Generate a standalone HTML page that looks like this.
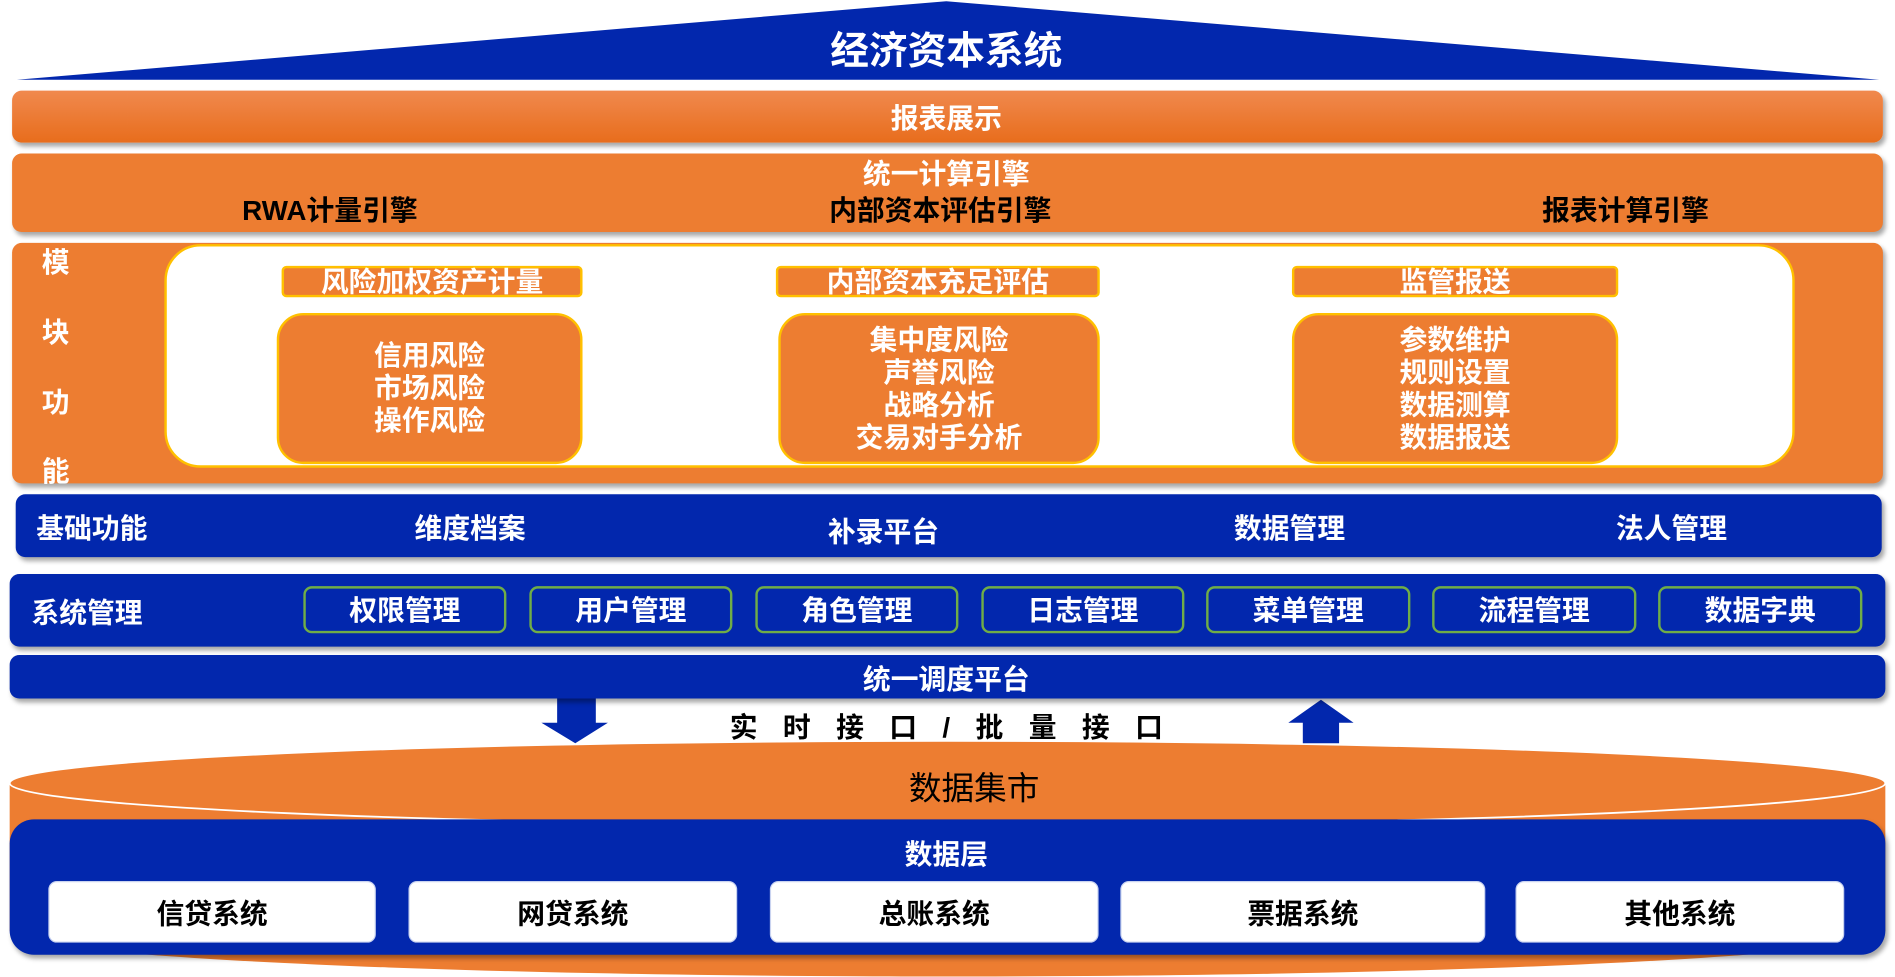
<!DOCTYPE html>
<html><head><meta charset="utf-8"><style>
html,body{margin:0;padding:0;width:1895px;height:976px;overflow:hidden;background:#fff}
#w{position:absolute;left:0;top:0;width:1568px;height:808px;transform:scale(1.20855);transform-origin:0 0;font-family:"Liberation Sans","Noto Sans CJK SC",sans-serif;font-weight:700}
.a{position:absolute;box-sizing:border-box}
.t{position:absolute;white-space:nowrap;transform:translate(-50%,-50%);font-size:23px}
.or{background:#ed7d31;border-radius:8px;box-shadow:2px 3px 4px rgba(0,0,0,.35)}
.bl{background:#0227ad;border-radius:8px;box-shadow:2px 3px 4px rgba(0,0,0,.35)}
.w{color:#fff}.k{color:#000}
.hd{background:#ed7d31;border:2px solid #ffc000;border-radius:4px;color:#fff;font-size:23px;text-align:center;line-height:22px}
.cb{background:#ed7d31;border:2px solid #ffc000;border-radius:22px;color:#fff;font-size:23px;text-align:center;display:flex;flex-direction:column;justify-content:center;line-height:27px}
.gb{border:2px solid #70ad47;border-radius:7px;color:#fff;font-size:23px;text-align:center;line-height:37px}
.wb{background:#fff;border-radius:7px;color:#000;font-size:23px;text-align:center;line-height:53px;border:1px solid #c9d3f0}
</style></head><body><div id="w">
<svg class="a" style="left:0;top:0" width="1568" height="808">
<polygon points="783,1 1555,66 14,66" fill="#0227ad"/>
<path d="M8,648 L8,770 A776,38 0 0 0 1560,770 L1560,648 Z" fill="#ed7d31"/>
<ellipse cx="784" cy="648" rx="776" ry="35" fill="#ed7d31" stroke="#fff" stroke-width="1.5"/>
<polygon points="461,578 493,578 493,598 503,598 476,615 448,598 461,598" fill="#0227ad"/>
<polygon points="1078,615 1108,615 1108,598 1120,598 1093,579 1066,598 1078,598" fill="#0227ad"/>
</svg>
<div class="t w" style="left:783px;top:40px;font-size:32px">经济资本系统</div>
<div class="a" style="left:10px;top:75px;width:1548px;height:43px;border-radius:8px;background:linear-gradient(#f0894e,#e86d1c);box-shadow:2px 3px 4px rgba(0,0,0,.35)"></div>
<div class="t w" style="left:783px;top:96px">报表展示</div>
<div class="a or" style="left:10px;top:127px;width:1548px;height:65px"></div>
<div class="t w" style="left:783px;top:142px">统一计算引擎</div>
<div class="t k" style="left:273px;top:172px">RWA计量引擎</div>
<div class="t k" style="left:778px;top:172px">内部资本评估引擎</div>
<div class="t k" style="left:1345px;top:172px">报表计算引擎</div>
<div class="a or" style="left:10px;top:201px;width:1548px;height:199px"></div>
<div class="t w" style="left:46px;top:215px">模</div>
<div class="t w" style="left:46px;top:273px">块</div>
<div class="t w" style="left:46px;top:331px">功</div>
<div class="t w" style="left:46px;top:388px">能</div>
<div class="a" style="left:136px;top:202px;width:1349px;height:185px;background:#fff;border:2px solid #ffc000;border-radius:30px"></div>
<div class="a hd" style="left:233px;top:220px;width:249px;height:26px">风险加权资产计量</div>
<div class="a hd" style="left:642px;top:220px;width:268px;height:26px">内部资本充足评估</div>
<div class="a hd" style="left:1069px;top:220px;width:270px;height:26px">监管报送</div>
<div class="a cb" style="left:229px;top:259px;width:253px;height:125px"><div>信用风险</div><div>市场风险</div><div>操作风险</div></div>
<div class="a cb" style="left:644px;top:259px;width:266px;height:125px"><div>集中度风险</div><div>声誉风险</div><div>战略分析</div><div>交易对手分析</div></div>
<div class="a cb" style="left:1069px;top:259px;width:270px;height:125px"><div>参数维护</div><div>规则设置</div><div>数据测算</div><div>数据报送</div></div>
<div class="a bl" style="left:13px;top:409px;width:1544px;height:52px"></div>
<div class="t w" style="left:76px;top:435px">基础功能</div>
<div class="t w" style="left:389px;top:435px">维度档案</div>
<div class="t w" style="left:731px;top:438px">补录平台</div>
<div class="t w" style="left:1067px;top:435px">数据管理</div>
<div class="t w" style="left:1383px;top:435px">法人管理</div>
<div class="a bl" style="left:8px;top:475px;width:1552px;height:60px"></div>
<div class="t w" style="left:72px;top:505px">系统管理</div>
<div class="a gb" style="left:251px;top:485px;width:168px;height:39px">权限管理</div>
<div class="a gb" style="left:438px;top:485px;width:168px;height:39px">用户管理</div>
<div class="a gb" style="left:625px;top:485px;width:168px;height:39px">角色管理</div>
<div class="a gb" style="left:812px;top:485px;width:168px;height:39px">日志管理</div>
<div class="a gb" style="left:998px;top:485px;width:169px;height:39px">菜单管理</div>
<div class="a gb" style="left:1185px;top:485px;width:169px;height:39px">流程管理</div>
<div class="a gb" style="left:1372px;top:485px;width:169px;height:39px">数据字典</div>
<div class="a bl" style="left:8px;top:542px;width:1552px;height:36px"></div>
<div class="t w" style="left:783px;top:560px">统一调度平台</div>
<div class="t k" style="left:783px;top:600px;letter-spacing:21px;padding-left:21px">实时接口/批量接口</div>
<div class="t k" style="left:806px;top:650px;font-size:27px;font-weight:400">数据集市</div>
<div class="a" style="left:8px;top:678px;width:1552px;height:112px;background:#0227ad;border-radius:20px;box-shadow:2px 3px 4px rgba(0,0,0,.35)"></div>
<div class="t w" style="left:783px;top:705px">数据层</div>
<div class="a wb" style="left:40px;top:729px;width:271px;height:51px">信贷系统</div>
<div class="a wb" style="left:338px;top:729px;width:272px;height:51px">网贷系统</div>
<div class="a wb" style="left:637px;top:729px;width:272px;height:51px">总账系统</div>
<div class="a wb" style="left:927px;top:729px;width:302px;height:51px">票据系统</div>
<div class="a wb" style="left:1254px;top:729px;width:272px;height:51px">其他系统</div>
</div></body></html>
